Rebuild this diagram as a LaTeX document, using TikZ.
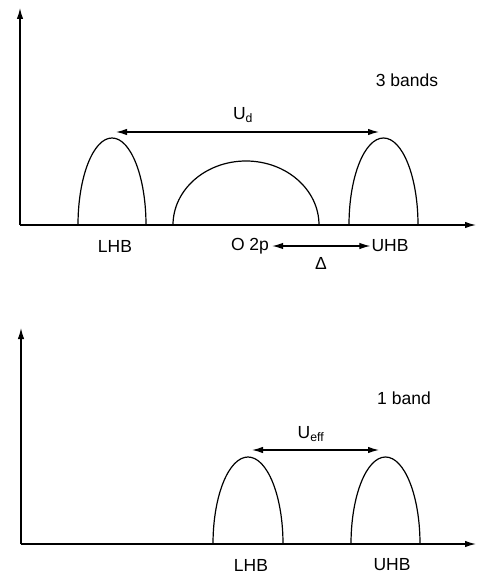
\documentclass[tikz,border=0pt]{standalone}
\usepackage{fontspec}
\setmainfont{Liberation Sans}
\usetikzlibrary{arrows.meta}
\begin{document}
\begin{tikzpicture}[x=1pt,y=-1pt,
  axis/.style={line width=1.4pt,-{Latex[length=11pt,width=6.5pt]}},
  band/.style={line width=1.2pt},
  gap/.style={line width=1.2pt,{Latex[length=11pt,width=6.5pt]}-{Latex[length=11pt,width=6.5pt]}},
  lbl/.style={font=\fontsize{17.5}{19}\selectfont,inner sep=0pt}]
\useasboundingbox (0,0) rectangle (476,577);
% ---- top panel ----
\coordinate (o1) at (20,225);
\coordinate (y1) at (20,8);
\coordinate (x1) at (476,225);
\draw[axis] (o1) -- (y1);
\draw[axis] (o1) -- (x1);
\draw[band] (78,225) arc[start angle=180,end angle=0,x radius=34,y radius=-87];
\draw[band] (173,225) arc[start angle=180,end angle=0,x radius=73,y radius=-64];
\draw[band] (349,225) arc[start angle=180,end angle=0,x radius=34.5,y radius=-87];
\coordinate (ud1) at (116,132);
\coordinate (ud2) at (379,132);
\draw[gap] (ud1) -- (ud2);
\node[lbl] (ud) at (243,115) {U\textsubscript{d}};
\node[lbl] (three) at (407,80) {3 bands};
\node[lbl] (lhb1) at (115,246) {LHB};
\node[lbl] (o2p) at (250,246) {O 2p};
\node[lbl] (uhb1) at (390,246) {UHB};
\path (o2p.east) ++(3,0) coordinate (d1);
\path (uhb1.west) ++(-1,0) coordinate (d2);
\draw[gap] (d1) -- (d2);
\node[lbl] (delta) at (321,263) {Δ};
% ---- bottom panel ----
\coordinate (o2) at (21,544);
\coordinate (y2) at (21,328);
\coordinate (x2) at (476,544);
\draw[axis] (o2) -- (y2);
\draw[axis] (o2) -- (x2);
\draw[band] (213,544) arc[start angle=180,end angle=0,x radius=35,y radius=-87];
\draw[band] (351,544) arc[start angle=180,end angle=0,x radius=34.5,y radius=-87];
\coordinate (ue1) at (252,450);
\coordinate (ue2) at (379,450);
\draw[gap] (ue1) -- (ue2);
\node[lbl] (ueff) at (311,434) {U\textsubscript{eff}};
\node[lbl] (one) at (404,398) {1 band};
\node[lbl] (lhb2) at (251,565) {LHB};
\node[lbl] (uhb2) at (392,565) {UHB};
\end{tikzpicture}
\end{document}
